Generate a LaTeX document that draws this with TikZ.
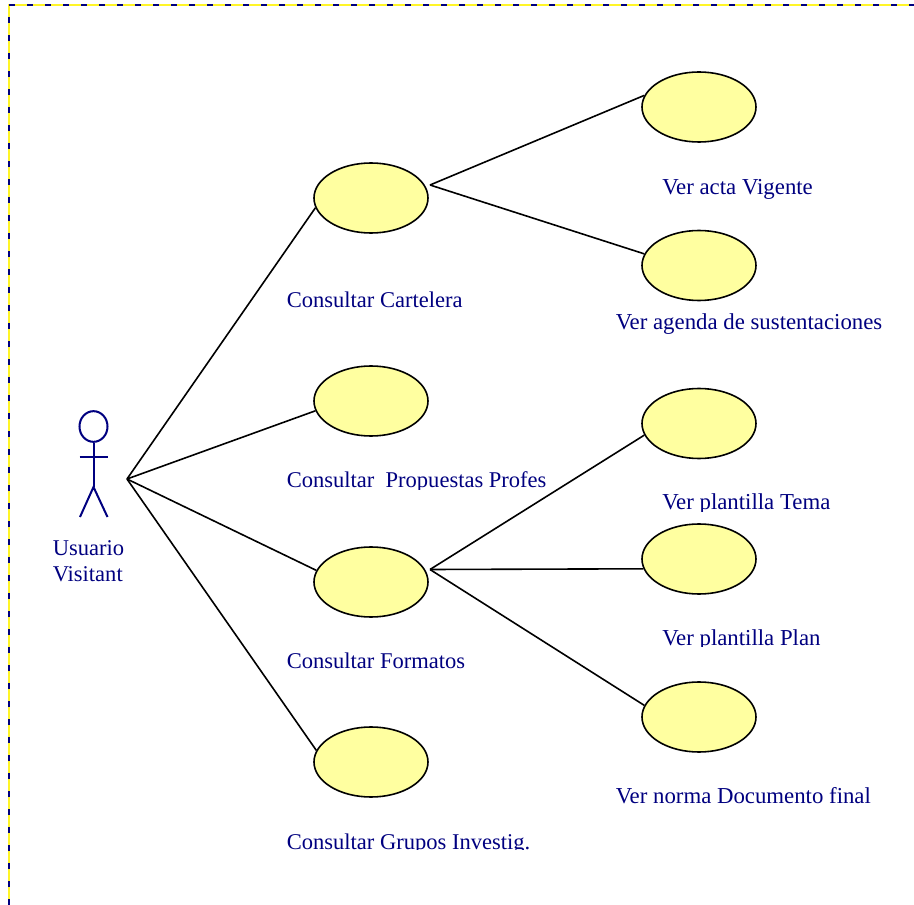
\documentclass[tikz,border=0pt]{standalone}
\usepackage{fontspec}
\setmainfont{Liberation Serif}
\usetikzlibrary{shapes.geometric,backgrounds}
\definecolor{uc}{RGB}{255,255,160}
\definecolor{nv}{RGB}{0,0,128}
\definecolor{by}{RGB}{255,245,40}
\tikzset{
 x=0.75pt,y=-0.75pt,
 usecase/.style={ellipse,draw=black,fill=uc,line width=1.2pt,minimum width=85.5pt,minimum height=52.5pt,inner sep=0pt},
 lbl/.style={anchor=base west,inner sep=0pt,text=nv,font=\fontsize{16.9}{19}\selectfont},
 rlbl/.style={lbl,font=\fontsize{17.1}{19}\selectfont},
 conn/.style={draw=black,line width=1.2pt},
 actor/.style={draw=nv,line width=1.5pt}
}
\begin{document}
\begin{tikzpicture}
\useasboundingbox (0,0) rectangle (914,905);
% use cases
\node[usecase] (e1) at (371,198) {};
\node[usecase] (e2) at (371,401) {};
\node[usecase] (e3) at (371,582) {};
\node[usecase] (e4) at (371,762) {};
\node[usecase] (e5) at (699,107) {};
\node[usecase] (e6) at (699,265.5) {};
\node[usecase] (e7) at (699,423.5) {};
\node[usecase] (e8) at (699,559) {};
\node[usecase] (e9) at (699,717) {};
% actor
\node[ellipse,actor,minimum width=21pt,minimum height=23pt,inner sep=0pt] (head) at (93.5,426.5) {};
\coordinate (hip) at (93.5,487);
\coordinate (armL) at (79.5,457);
\coordinate (armR) at (107.5,457);
\coordinate (legL) at (80,517);
\coordinate (legR) at (107.5,517);
\draw[actor] (head.south) -- (hip);
\draw[actor] (armL) -- (armR);
\draw[actor] (legL) -- (hip) -- (legR);
% hubs
\coordinate (ac) at (127,479);
\coordinate (h1) at (430,185);
\coordinate (h3) at (430,569.5);
\begin{scope}[on background layer]
\fill[white] (0,0) rectangle (914,905);
% frame
\draw[black!35!by,line width=1.6pt] (8.6,905) -- (8.6,4.6) -- (914,4.6);
\draw[by,line width=1.2pt] (9,905) -- (9,5) -- (914,5);
\draw[nv,line width=1.5pt,dash pattern=on 4.5pt off 9pt] (9,905) -- (9,5) -- (914,5);
% connectors
\draw[conn] (ac) -- (e1.190);
\draw[conn] (ac) -- (e2.190);
\draw[conn] (ac) -- (e3.168);
\draw[conn] (ac) -- (e4.168);
\draw[conn] (h1) -- (e5.168);
\draw[conn] (h1) -- (e6.168);
\draw[conn] (h3) -- (e7.192);
\draw[conn] (h3) -- (e8.190);
\draw[conn] (h3) -- (e9.168);
\end{scope}
% labels
\node[lbl] (t1) at (286.5,307.7) {Consultar Cartelera};
\node[lbl] (t3) at (286.5,668.7) {Consultar Formatos};
\node[rlbl] (t5) at (662,194.7) {Ver acta Vigente};
\node[rlbl] (t6) at (615.5,329.7) {Ver agenda de sustentaciones};
\node[rlbl] (t9) at (615.5,803.7) {Ver norma Documento final};
\node[lbl] (a1) at (52.5,555.7) {Usuario};
\node[lbl] (a2) at (52.5,581.7) {Visitant};
\begin{scope}
\clip (280,460) rectangle (552,489);
\node[lbl] (t2) at (286.5,487.7) {Consultar\ \ Propuestas Profes};
\end{scope}
\begin{scope}
\clip (655,485) rectangle (840,511);
\node[rlbl] (t7) at (662,509.7) {Ver plantilla Tema};
\end{scope}
\begin{scope}
\clip (655,620) rectangle (830,646);
\node[rlbl] (t8) at (662,645.7) {Ver plantilla Plan};
\end{scope}
\begin{scope}
\clip (280,825) rectangle (535,849);
\node[lbl] (t4) at (286.5,849.7) {Consultar Grupos Investig.};
\end{scope}
\end{tikzpicture}
\end{document}
